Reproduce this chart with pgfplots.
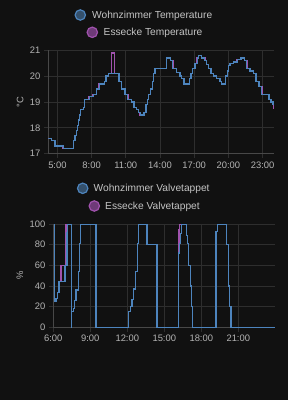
\documentclass[border=0pt]{standalone}
\usepackage{pgfplots}
\pgfplotsset{compat=1.18}
\usepackage{fontspec}
\setmainfont{Liberation Sans}
\definecolor{bg}{HTML}{111111}
\definecolor{gridc}{HTML}{2E2E2E}
\definecolor{borderc}{HTML}{484848}
\definecolor{tickc}{HTML}{B4B4B4}
\definecolor{legc}{HTML}{C4C4C4}
\definecolor{blueL}{HTML}{4D84BD}
\definecolor{blueF}{HTML}{34506C}
\definecolor{purpL}{HTML}{A052AD}
\definecolor{purpF}{HTML}{6E3A78}
\newcommand{\legfont}{\fontsize{10.2}{12}\selectfont}
\newcommand{\tickfont}{\fontsize{9.4}{11}\selectfont}
\pgfplotsset{
  hadark/.style={
    scale only axis,
    axis x line*=bottom, axis y line*=left,
    axis line style={draw=borderc, line width=0.8pt, -},
    grid=major, major grid style={draw=gridc, line width=0.7pt},
    tick align=outside, major tick length=4.5pt,
    tick style={draw=gridc, line width=0.7pt},
    ticklabel style={font=\tickfont, text=tickc},
    ylabel style={anchor=center, font=\tickfont, text=tickc},
  }
}
\begin{document}
\begin{tikzpicture}
\fill[bg] (0pt,0pt) rectangle (288pt,400pt);
% top legend
\filldraw[fill=blueF, draw=blueL, line width=1.2pt] (80.3pt,385pt) circle (5.2pt);
\node[anchor=base west, inner sep=0pt, text=legc, font=\legfont] at (92pt,381.4pt) {Wohnzimmer Temperature};
\filldraw[fill=purpF, draw=purpL, line width=1.2pt] (92.3pt,367.7pt) circle (5.2pt);
\node[anchor=base west, inner sep=0pt, text=legc, font=\legfont] at (103.5pt,364.1pt) {Essecke Temperature};
% bottom legend
\filldraw[fill=blueF, draw=blueL, line width=1.2pt] (82.7pt,211.7pt) circle (5.2pt);
\node[anchor=base west, inner sep=0pt, text=legc, font=\legfont] at (93.5pt,208.1pt) {Wohnzimmer Valvetappet};
\filldraw[fill=purpF, draw=purpL, line width=1.2pt] (94.3pt,194pt) circle (5.2pt);
\node[anchor=base west, inner sep=0pt, text=legc, font=\legfont] at (105pt,190.4pt) {Essecke Valvetappet};

\begin{axis}[hadark,
  at={(48.3pt,246.3pt)}, anchor=south west,
  width=225.7pt, height=103.4pt,
  xmin=4.2, xmax=24.0, ymin=17, ymax=21,
  xtick={5,8,11,14,17,20,23},
  xticklabels={5:00,8:00,11:00,14:00,17:00,20:00,23:00},
  ytick={17,18,19,20,21}, yticklabels={17,18,19,20,21},
  ylabel={°C},
  ylabel style={at={(axis description cs:-0.125,0.5)}},
]
\addplot[const plot, draw=purpL, line width=1.3pt] coordinates {
(4.21,17.6)(4.51,17.5)(4.80,17.3)(5.45,17.2)(6.40,17.5)(6.55,17.7)(6.70,17.9)(6.75,18.1)(6.84,18.3)(6.93,18.5)(7.05,18.7)(7.28,18.8)(7.37,19.1)(7.75,19.2)(8.10,19.3)(8.45,19.5)(8.62,19.7)(9.10,19.8)(9.27,20.0)(9.47,20.1)(9.77,20.9)(10.0,20.1)(10.41,19.8)(10.65,19.5)(10.94,19.3)(11.2,19.1)(11.52,19.0)(11.73,18.8)(11.96,18.7)(12.11,18.6)(12.25,18.5)(12.6,18.6)(12.78,18.9)(12.9,19.1)(13.01,19.3)(13.19,19.5)(13.34,19.8)(13.42,20.1)(13.57,20.3)(14.54,20.7)(14.94,20.6)(15.2,20.3)(15.47,20.15)(15.76,20.0)(15.91,19.9)(16.11,19.7)(16.58,19.9)(16.73,20.1)(16.88,20.3)(17.08,20.5)(17.2,20.7)(17.37,20.8)(17.61,20.7)(17.95,20.6)(18.1,20.45)(18.25,20.3)(18.48,20.1)(18.68,20.0)(18.98,19.9)(19.2,19.8)(19.42,19.7)(19.77,20.0)(19.91,20.2)(20.0,20.4)(20.1,20.5)(20.44,20.55)(20.75,20.65)(21.11,20.7)(21.4,20.6)(21.7,20.3)(21.9,20.2)(22.19,20.1)(22.43,19.8)(22.69,19.6)(23.0,19.3)(23.57,19.1)(23.75,19.0)(23.85,18.9)(23.95,18.75)(24.0,18.75)};
\addplot[const plot, draw=blueL, line width=1.3pt] coordinates {
(4.21,17.6)(4.51,17.5)(4.80,17.3)(5.53,17.2)(6.40,17.5)(6.55,17.7)(6.70,17.9)(6.75,18.1)(6.84,18.3)(6.93,18.5)(7.05,18.7)(7.28,18.8)(7.37,19.1)(7.81,19.2)(8.16,19.3)(8.45,19.5)(8.68,19.7)(9.10,19.8)(9.27,20.0)(9.47,20.1)(10.41,19.8)(10.65,19.5)(10.94,19.3)(11.14,19.1)(11.52,19.0)(11.73,18.8)(11.96,18.7)(12.11,18.6)(12.31,18.5)(12.6,18.6)(12.78,18.9)(12.9,19.1)(13.01,19.3)(13.19,19.5)(13.34,19.8)(13.42,20.1)(13.57,20.3)(14.54,20.7)(14.94,20.6)(15.12,20.3)(15.47,20.15)(15.76,20.0)(15.91,19.9)(16.11,19.7)(16.58,19.9)(16.73,20.1)(16.88,20.3)(17.08,20.5)(17.28,20.7)(17.37,20.8)(17.61,20.7)(17.9,20.6)(18.1,20.45)(18.25,20.3)(18.48,20.1)(18.68,20.0)(18.98,19.9)(19.27,19.8)(19.42,19.7)(19.77,20.0)(19.91,20.2)(20.0,20.4)(20.15,20.5)(20.44,20.55)(20.82,20.65)(21.11,20.7)(21.4,20.6)(21.61,20.3)(21.9,20.2)(22.19,20.1)(22.43,19.8)(22.69,19.6)(22.93,19.3)(23.57,19.1)(23.75,19.0)(23.9,18.9)(23.98,18.9)};
\end{axis}

\begin{axis}[hadark,
  at={(53.3pt,72.7pt)}, anchor=south west,
  width=222pt, height=103.3pt,
  xmin=6, xmax=24.0, ymin=0, ymax=100,
  xtick={6,9,12,15,18,21},
  xticklabels={6:00,9:00,12:00,15:00,18:00,21:00},
  ytick={0,20,40,60,80,100}, yticklabels={0,20,40,60,80,100},
  ylabel={\%},
  ylabel style={at={(axis description cs:-0.15,0.5)}},
]
\addplot[const plot, draw=purpL, line width=1.3pt] coordinates {
(6.07,100)(6.09,25)(6.22,28)(6.33,34)(6.46,44)(6.63,60)(7.0,92)(7.04,100)(7.46,0)(7.49,15)(7.63,18)(7.71,26)(7.85,36)(8.04,54)(8.11,81)(8.22,100)(9.47,0)(12.1,15)(12.24,20)(12.37,27)(12.5,37)(12.64,54)(12.83,81)(12.91,100)(13.59,80)(14.41,0)(16.14,78)(16.2,95)(16.26,100)(16.79,89)(16.9,81)(16.98,60)(17.11,40)(17.19,20)(17.3,0)(19.18,93)(19.3,100)(20.02,80)(20.18,40)(20.31,20)(20.42,0)(24.0,0)};
\addplot[const plot, draw=blueL, line width=1.3pt] coordinates {
(6.07,100)(6.09,25)(6.22,28)(6.33,34)(6.46,44)(6.95,60)(7.11,92)(7.17,100)(7.46,0)(7.49,15)(7.63,18)(7.71,26)(7.85,36)(8.04,54)(8.11,81)(8.22,100)(9.47,0)(12.1,15)(12.24,20)(12.37,27)(12.5,37)(12.64,54)(12.83,81)(12.91,100)(13.59,80)(14.41,0)(16.16,72)(16.24,81)(16.3,91)(16.38,100)(16.79,89)(16.9,81)(16.98,60)(17.11,40)(17.19,20)(17.3,0)(19.18,93)(19.3,100)(20.02,80)(20.18,40)(20.31,20)(20.42,0)(24.0,0)};
\end{axis}
\pgfresetboundingbox
\path (0pt,0pt) rectangle (288pt,400pt);
\end{tikzpicture}
\end{document}
